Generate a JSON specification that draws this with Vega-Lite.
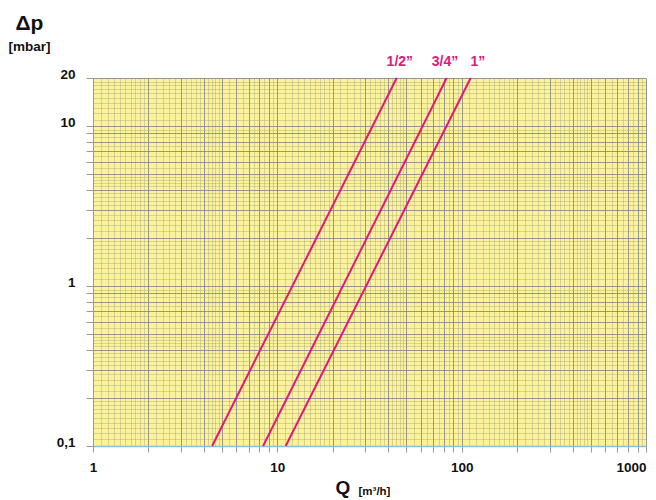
{
  "$schema": "https://vega.github.io/schema/vega-lite/v6.json",
  "width": 553,
  "height": 368,
  "autosize": {"type": "none"},
  "padding": {"left": 93, "top": 78, "right": 10, "bottom": 54},
  "background": "white",
  "config": {
    "view": {"fill": "#fcf29a", "stroke": null},
    "font": "Liberation Sans"
  },
  "data": {
    "values": [
      {"size": "1/2”", "Q": 4.43, "dp": 0.1},
      {"size": "1/2”", "Q": 44.4, "dp": 20, "labelQ": 46.2},
      {"size": "3/4”", "Q": 8.37, "dp": 0.1},
      {"size": "3/4”", "Q": 82.9, "dp": 20, "labelQ": 81.2},
      {"size": "1”", "Q": 11.1, "dp": 0.1},
      {"size": "1”", "Q": 111.9, "dp": 20, "labelQ": 122.5}
    ]
  },
  "resolve": {"axis": {"x": "independent", "y": "independent"}},
  "layer": [
    {
      "transform": [{"filter": "datum.dp == 20"}],
      "mark": {"type": "text", "fontWeight": "bold", "fontSize": 14, "color": "#e2187b", "dy": -12, "baseline": "alphabetic", "align": "center"},
      "encoding": {
        "x": {
          "field": "labelQ", "type": "quantitative",
          "scale": {"type": "log", "domain": [1, 1000], "nice": false},
          "axis": {
            "orient": "bottom",
            "values": [1.1,1.2,1.3,1.4,1.5,1.6,1.7,1.8,1.9,2.2,2.4,2.6,2.8,3.2,3.4,3.6,3.8,4.2,4.4,4.6,4.8,5.5,6.5,7.5,8.5,9.5,
                       11,12,13,14,15,16,17,18,19,22,24,26,28,32,34,36,38,42,44,46,48,55,65,75,85,95,
                       110,120,130,140,150,160,170,180,190,220,240,260,280,320,340,360,380,420,440,460,480,550,650,750,850,950],
            "grid": true, "gridColor": "#a09f80", "gridOpacity": 0.4, "gridWidth": 1,
            "labels": false, "ticks": false, "domain": false,
            "title": "[m³/h]", "titleFont": "Liberation Sans", "titleFontWeight": "bold", "titleFontSize": 11.5, "titleColor": "#111",
            "titleAlign": "left", "titleBaseline": "alphabetic", "titleX": 265, "titleY": 48, "titleAngle": 0
          }
        },
        "y": {
          "field": "dp", "type": "quantitative",
          "scale": {"type": "log", "domain": [0.1, 20], "nice": false},
          "axis": {
            "orient": "left",
            "values": [0.11,0.12,0.13,0.14,0.15,0.16,0.17,0.18,0.19,0.22,0.24,0.26,0.28,0.32,0.34,0.36,0.38,0.42,0.44,0.46,0.48,0.55,0.65,0.75,0.85,0.95,
                       1.1,1.2,1.3,1.4,1.5,1.6,1.7,1.8,1.9,2.2,2.4,2.6,2.8,3.2,3.4,3.6,3.8,4.2,4.4,4.6,4.8,5.5,6.5,7.5,8.5,9.5,
                       11,12,13,14,15,16,17,18,19],
            "grid": true, "gridColor": "#a09f80", "gridOpacity": 0.4, "gridWidth": 1,
            "labels": false, "ticks": false, "domain": false,
            "title": "[mbar]", "titleFont": "Liberation Sans", "titleFontWeight": "bold", "titleFontSize": 13.5, "titleColor": "#111",
            "titleAlign": "left", "titleBaseline": "alphabetic", "titleX": -85, "titleY": -27.5, "titleAngle": 0
          }
        },
        "text": {"field": "size"}
      }
    },
    {
      "mark": {"type": "line", "color": "#e2187b", "strokeWidth": 2},
      "encoding": {
        "x": {
          "field": "Q", "type": "quantitative",
          "scale": {"type": "log", "domain": [1, 1000], "nice": false},
          "axis": {
            "orient": "bottom",
            "values": [1,2,3,4,5,6,7,8,9,10,20,30,40,50,60,70,80,90,100,200,300,400,500,600,700,800,900,1000],
            "grid": true, "gridColor": "#8c8c8c", "gridOpacity": 0.9, "gridWidth": 1,
            "ticks": true, "tickColor": "#999999", "tickSize": 6,
            "domain": true, "domainColor": "#87bfe0", "domainWidth": 1.5,
            "labelExpr": "datum.value == 1 ? '1' : datum.value == 10 ? '10' : datum.value == 100 ? '100' : datum.value == 1000 ? '1000' : ''",
            "labelOverlap": false, "labelFlush": false,
            "labelAlign": {"condition": {"test": "datum.value >= 1000", "value": "right"}, "value": "center"},
            "labelFont": "Liberation Sans", "labelFontWeight": "bold", "labelFontSize": 13.5, "labelColor": "#111", "labelPadding": 8,
            "title": "Q", "titleFont": "Liberation Sans", "titleFontWeight": "bold", "titleFontSize": 19, "titleColor": "#111",
            "titleAlign": "left", "titleBaseline": "alphabetic", "titleX": 242, "titleY": 47, "titleAngle": 0
          }
        },
        "y": {
          "field": "dp", "type": "quantitative",
          "scale": {"type": "log", "domain": [0.1, 20], "nice": false},
          "axis": {
            "orient": "left",
            "values": [0.1,0.2,0.3,0.4,0.5,0.6,0.7,0.8,0.9,1,2,3,4,5,6,7,8,9,10,20],
            "grid": true, "gridColor": "#8c8c8c", "gridOpacity": 0.9, "gridWidth": 1,
            "ticks": true, "tickColor": "#999999", "tickSize": 7,
            "domain": true, "domainColor": "#999999", "domainWidth": 1,
            "labelExpr": "datum.value == 20 ? '20' : datum.value == 10 ? '10' : datum.value == 1 ? '1' : datum.value == 0.1 ? '0,1' : ''",
            "labelOverlap": false, "labelFlush": false, "labelBaseline": "alphabetic", "labelAlign": "right",
            "labelFont": "Liberation Sans", "labelFontWeight": "bold", "labelFontSize": 13.5, "labelColor": "#111", "labelPadding": 11,
            "title": "Δp", "titleFont": "Liberation Sans", "titleFontWeight": "bold", "titleFontSize": 21, "titleColor": "#111",
            "titleAlign": "left", "titleBaseline": "alphabetic", "titleX": -78, "titleY": -49, "titleAngle": 0
          }
        },
        "detail": {"field": "size"}
      }
    }
  ]
}
